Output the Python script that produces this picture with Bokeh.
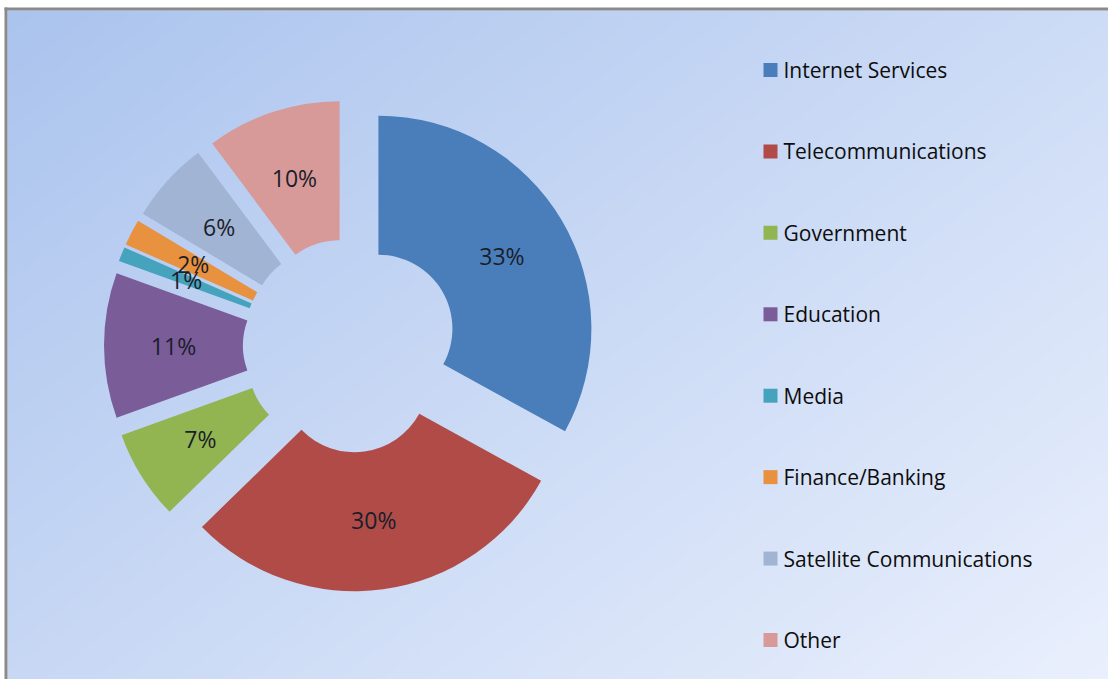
import numpy as np
from bokeh.plotting import figure
from bokeh.models import Range1d
from bokeh.core.properties import value
from bokeh.embed import file_html
from bokeh.resources import INLINE

# ---- data ----
categories = ["Internet Services", "Telecommunications", "Government", "Education",
              "Media", "Finance/Banking", "Satellite Communications", "Other"]
shares = [33.0, 29.7, 6.8, 11.0, 1.1, 2.0, 6.2, 10.2]
pct_labels = ["33%", "30%", "7%", "11%", "1%", "2%", "6%", "10%"]
colors = ["#4A7EBB", "#B04B48", "#92B451", "#7A5C99", "#46A3BD", "#E8913F", "#A2B4D4", "#D79A98"]

# ---- layout (pixel units) ----
W, H = 1108, 679


def fx(img_x):
    return img_x


def fy(img_y):
    return H - img_y


CX, CY = fx(349.5), fy(345)
R_OUT, R_IN, EXPLODE = 213, 74, 33

p = figure(width=W, height=H, x_range=Range1d(0, W), y_range=Range1d(0, H),
           output_backend="svg", toolbar_location=None, min_border=0)
p.axis.visible = False
p.grid.visible = False
p.outline_line_color = None
p.border_fill_color = "#ffffff"

# gradient background
step = 2
nx, ny = W // step, H // step
xs = (np.arange(nx) + 0.5) / nx
ys_img = 1.0 - (np.arange(ny) + 0.5) / ny  # row 0 is bottom
X, Y = np.meshgrid(xs, ys_img)
t = np.clip((X * 0.55 + Y * 0.45), 0, 1)
c0 = np.array([171, 196, 238], dtype=float)
c1 = np.array([234, 240, 253], dtype=float)
rgb = c0[None, None, :] * (1 - t[..., None]) + c1[None, None, :] * t[..., None]
img = np.empty((ny, nx), dtype=np.uint32)
view = img.view(dtype=np.uint8).reshape((ny, nx, 4))
view[..., 0] = rgb[..., 0].astype(np.uint8)
view[..., 1] = rgb[..., 1].astype(np.uint8)
view[..., 2] = rgb[..., 2].astype(np.uint8)
view[..., 3] = 255
p.image_rgba(image=[img], x=7, y=0, dw=W - 7, dh=H - 10)

# border (left and top)
p.segment(x0=[fx(5.5), fx(4)], y0=[fy(7), fy(8.5)], x1=[fx(5.5), fx(W)], y1=[fy(H), fy(8.5)],
          line_color="#8a8a8a", line_width=3)

# wedges
total = float(sum(shares))
cum = np.cumsum([0] + shares)[:-1] / total * 360.0
span = np.array(shares) / total * 360.0
start_cw = cum
end_cw = cum + span
mid = np.radians(cum + span / 2)
cxs = CX + EXPLODE * np.sin(mid)
cys = CY + EXPLODE * np.cos(mid)
p.annular_wedge(x=cxs, y=cys, inner_radius=R_IN, outer_radius=R_OUT,
                start_angle=np.radians(90 - start_cw), end_angle=np.radians(90 - end_cw),
                direction="clock", fill_color=colors, line_color=None)

# percentage labels
rl = (R_IN + R_OUT) / 2
lx = cxs + rl * np.sin(mid)
ly = cys + rl * np.cos(mid)
p.text(x=lx, y=ly, text=pct_labels, text_align="center", text_baseline="middle",
       text_font=value("Open Sans"), text_font_size="23px", text_color="#1a1e2a")

# legend
leg_y = [fy(69.5 + i * 81.43) for i in range(len(categories))]
p.scatter(x=[fx(770)] * len(categories), y=leg_y, marker="square", size=14,
          fill_color=colors, line_color=None)
p.text(x=[fx(783)] * len(categories), y=leg_y, text=categories, text_align="left",
       text_baseline="middle", text_font=value("Open Sans"), text_font_size="21px",
       text_color="#0d0d0d")

open("out.html", "w").write(file_html(p, INLINE))
